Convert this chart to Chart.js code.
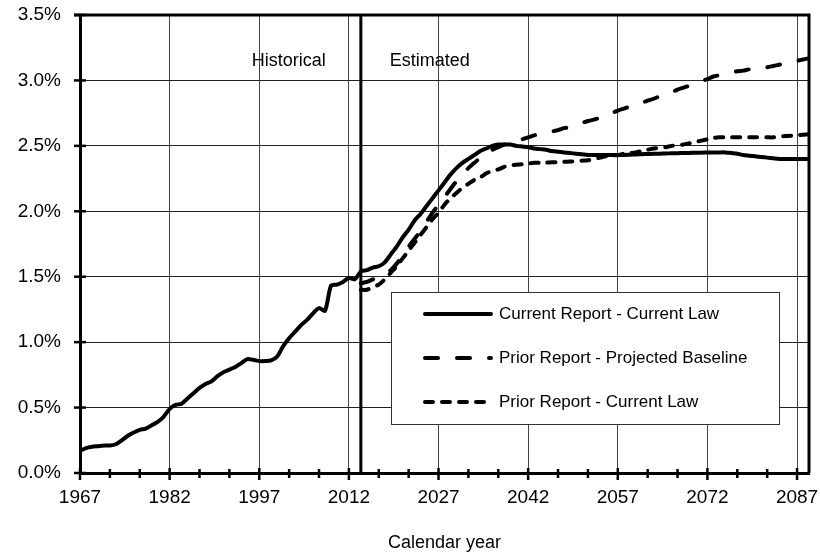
<!DOCTYPE html>
<html>
<head>
<meta charset="utf-8">
<script src="https://cdn.jsdelivr.net/npm/chart.js@4.4.1/dist/chart.umd.min.js"></script>
<style>
  html, body { margin: 0; padding: 0; background: #fff; }
  canvas { display: block; }
</style>
</head>
<body>
<canvas id="chart" width="820" height="556"></canvas>
<script>
// Series values in percent, one value per calendar year
const firstYear = 1967;
const priorFirstYear = 2014;
const lastYear = 2089;
const splitYear = 2014; // historical / estimated boundary

const currentReport = [
    0.17, 0.19, 0.20, 0.205, 0.21, 0.21, 0.22, 0.25, 0.285, 0.31,
    0.33, 0.34, 0.365, 0.39, 0.43, 0.49, 0.52, 0.53, 0.57, 0.61,
    0.65, 0.68, 0.70, 0.74, 0.77, 0.79, 0.81, 0.84, 0.87, 0.865,
    0.855, 0.855, 0.86, 0.89, 0.97, 1.03, 1.08, 1.13, 1.17, 1.22,
    1.26, 1.24, 1.43, 1.44, 1.46, 1.49, 1.48, 1.54, 1.55, 1.57,
    1.58, 1.61, 1.67, 1.73, 1.80, 1.86, 1.93, 1.98, 2.04, 2.10,
    2.16, 2.22, 2.28, 2.33, 2.37, 2.40, 2.43, 2.46, 2.48, 2.50,
    2.51, 2.51, 2.51, 2.50, 2.495, 2.49, 2.48, 2.475, 2.47, 2.46,
    2.455, 2.45, 2.445, 2.44, 2.435, 2.43, 2.43, 2.43, 2.43, 2.43,
    2.43, 2.43, 2.432, 2.434, 2.436, 2.438, 2.44, 2.44, 2.442, 2.443,
    2.444, 2.445, 2.446, 2.447, 2.448, 2.449, 2.45, 2.45, 2.45, 2.445,
    2.44, 2.43, 2.425, 2.42, 2.415, 2.41, 2.405, 2.40, 2.40, 2.40,
    2.40, 2.40, 2.40
];

const priorBaseline = [
    1.45, 1.46, 1.48, 1.50, 1.52, 1.55, 1.60, 1.66, 1.73, 1.79,
    1.85, 1.92, 1.99, 2.05, 2.11, 2.17, 2.23, 2.28, 2.33, 2.37,
    2.41, 2.44, 2.47, 2.49, 2.51, 2.52, 2.53, 2.55, 2.565, 2.58,
    2.59, 2.60, 2.61, 2.62, 2.635, 2.645, 2.66, 2.675, 2.69, 2.70,
    2.715, 2.73, 2.75, 2.77, 2.785, 2.80, 2.81, 2.83, 2.845, 2.86,
    2.88, 2.90, 2.91, 2.93, 2.945, 2.96, 2.98, 2.995, 3.01, 3.03,
    3.04, 3.05, 3.06, 3.07, 3.075, 3.085, 3.09, 3.095, 3.10, 3.11,
    3.12, 3.13, 3.14, 3.15, 3.16, 3.17
];

const priorCurrentLaw = [
    1.40, 1.40, 1.42, 1.44, 1.48, 1.53, 1.58, 1.64, 1.70, 1.76,
    1.82, 1.88, 1.94, 1.99, 2.05, 2.10, 2.14, 2.18, 2.21, 2.24,
    2.26, 2.29, 2.31, 2.32, 2.34, 2.35, 2.355, 2.36, 2.365, 2.37,
    2.37, 2.372, 2.374, 2.376, 2.378, 2.38, 2.383, 2.387, 2.39, 2.40,
    2.41, 2.42, 2.425, 2.43, 2.44, 2.445, 2.45, 2.46, 2.47, 2.48,
    2.485, 2.49, 2.50, 2.505, 2.51, 2.52, 2.53, 2.54, 2.55, 2.56,
    2.565, 2.565, 2.565, 2.565, 2.565, 2.565, 2.565, 2.565, 2.565, 2.565,
    2.57, 2.575, 2.578, 2.58, 2.585, 2.59
];

const seriesLabels = [
    'Current Report - Current Law',
    'Prior Report - Projected Baseline',
    'Prior Report - Current Law'
];
const xTickYears = [1967, 1982, 1997, 2012, 2027, 2042, 2057, 2072, 2087];
const yTickValues = [0, 0.5, 1.0, 1.5, 2.0, 2.5, 3.0, 3.5];
const periodLabels = ['Historical', 'Estimated'];
const xTitle = 'Calendar year';

const FONT = "'Liberation Sans', Arial, sans-serif";

function toPoints(values, startYear) {
    return values.map((v, i) => ({ x: startYear + i, y: v }));
}

// frame, minor tick marks, split line, period labels and legend box
const decorPlugin = {
    id: 'decor',
    beforeDatasetsDraw(chart) {
        const { ctx, chartArea, scales } = chart;
        const x = scales.x.getPixelForValue(splitYear);
        ctx.save();
        ctx.strokeStyle = '#000';
        ctx.lineWidth = 3;
        ctx.beginPath();
        ctx.moveTo(x, chartArea.top);
        ctx.lineTo(x, chartArea.bottom);
        ctx.stroke();

        ctx.fillStyle = '#000';
        ctx.font = '18px ' + FONT;
        ctx.textBaseline = 'middle';
        const ty = scales.y.getPixelForValue(3.15);
        ctx.textAlign = 'right';
        ctx.fillText(periodLabels[0], x - 35, ty);
        ctx.textAlign = 'left';
        ctx.fillText(periodLabels[1], x + 29, ty);
        ctx.restore();
    },
    afterDatasetsDraw(chart) {
        const { ctx, chartArea } = chart;
        const bx = chartArea.left + 311, by = chartArea.top + 277;
        const bw = 388, bh = 132;
        ctx.save();
        ctx.fillStyle = '#fff';
        ctx.fillRect(bx, by, bw, bh);
        ctx.strokeStyle = '#333';
        ctx.lineWidth = 1;
        ctx.strokeRect(bx + 0.5, by + 0.5, bw, bh);

        ctx.font = '17px ' + FONT;
        ctx.textBaseline = 'middle';
        ctx.textAlign = 'left';
        chart.data.datasets.forEach((ds, i) => {
            const ry = by + 22 + i * 44;
            ctx.strokeStyle = '#000';
            ctx.lineWidth = ds.borderWidth;
            ctx.lineCap = 'round';
            ctx.setLineDash(ds.borderDash || []);
            ctx.beginPath();
            ctx.moveTo(bx + 34, ry);
            ctx.lineTo(bx + 100, ry);
            ctx.stroke();
            ctx.setLineDash([]);
            ctx.fillStyle = '#000';
            ctx.fillText(ds.label, bx + 108, ry);
        });
        ctx.restore();
    },
    afterDraw(chart) {
        const { ctx, chartArea, scales } = chart;
        ctx.save();
        ctx.strokeStyle = '#000';
        ctx.lineWidth = 3;
        // top and right frame
        ctx.beginPath();
        ctx.moveTo(chartArea.left - 6, chartArea.top);
        ctx.lineTo(chartArea.right, chartArea.top);
        ctx.lineTo(chartArea.right, chartArea.bottom);
        ctx.stroke();
        // x tick marks every 5 years
        ctx.lineWidth = 2.5;
        for (let yr = firstYear; yr <= 2087; yr += 5) {
            const px = scales.x.getPixelForValue(yr);
            const major = (yr - firstYear) % 15 === 0;
            ctx.beginPath();
            ctx.moveTo(px, chartArea.bottom - (major ? 5 : 4));
            ctx.lineTo(px, chartArea.bottom + (major ? 7 : 5));
            ctx.stroke();
        }
        // y tick marks
        yTickValues.forEach(v => {
            const py = scales.y.getPixelForValue(v);
            ctx.beginPath();
            ctx.moveTo(chartArea.left - 6, py);
            ctx.lineTo(chartArea.left + 6, py);
            ctx.stroke();
        });
        ctx.restore();
    }
};

new Chart(document.getElementById('chart'), {
    type: 'line',
    data: {
        datasets: [
            {
                label: seriesLabels[0],
                data: toPoints(currentReport, firstYear),
                borderColor: '#000',
                borderWidth: 4,
                borderDash: [],
                tension: 0.25
            },
            {
                label: seriesLabels[1],
                data: toPoints(priorBaseline, priorFirstYear),
                borderColor: '#000',
                borderWidth: 4,
                borderDash: [13, 19],
                borderCapStyle: 'round',
                tension: 0.25
            },
            {
                label: seriesLabels[2],
                data: toPoints(priorCurrentLaw, priorFirstYear),
                borderColor: '#000',
                borderWidth: 4,
                borderDash: [8, 9],
                borderCapStyle: 'round',
                tension: 0.25
            }
        ]
    },
    options: {
        responsive: false,
        animation: false,
        devicePixelRatio: 1,
        layout: { padding: { top: 15, right: 11, left: 0, bottom: 0 } },
        elements: { point: { radius: 0 } },
        plugins: { legend: { display: false }, tooltip: { enabled: false } },
        scales: {
            x: {
                type: 'linear',
                min: firstYear,
                max: lastYear,
                afterBuildTicks: s => { s.ticks = xTickYears.map(v => ({ value: v })); },
                afterFit: s => {
                    s.height = 83;
                    s.paddingLeft = 0;
                    s.paddingRight = 0;
                },
                ticks: {
                    color: '#000',
                    font: { family: FONT, size: 19 },
                    padding: 13,
                    maxRotation: 0,
                    autoSkip: false,
                    callback: v => String(v)
                },
                grid: { color: '#444', lineWidth: 1, drawTicks: false },
                border: { color: '#000', width: 3 },
                title: {
                    display: true,
                    text: xTitle,
                    color: '#000',
                    font: { family: FONT, size: 18 },
                    padding: { top: 0, bottom: 2 }
                }
            },
            y: {
                min: 0,
                max: 3.5,
                afterBuildTicks: s => { s.ticks = yTickValues.map(v => ({ value: v })); },
                afterFit: s => {
                    s.width = 80;
                    s.paddingTop = 0;
                    s.paddingBottom = 0;
                },
                ticks: {
                    color: '#000',
                    font: { family: FONT, size: 19 },
                    padding: 19,
                    callback: v => v.toFixed(1) + '%'
                },
                grid: { color: '#222', lineWidth: 1, drawTicks: false },
                border: { color: '#000', width: 3 }
            }
        }
    },
    plugins: [decorPlugin]
});
</script>
</body>
</html>
